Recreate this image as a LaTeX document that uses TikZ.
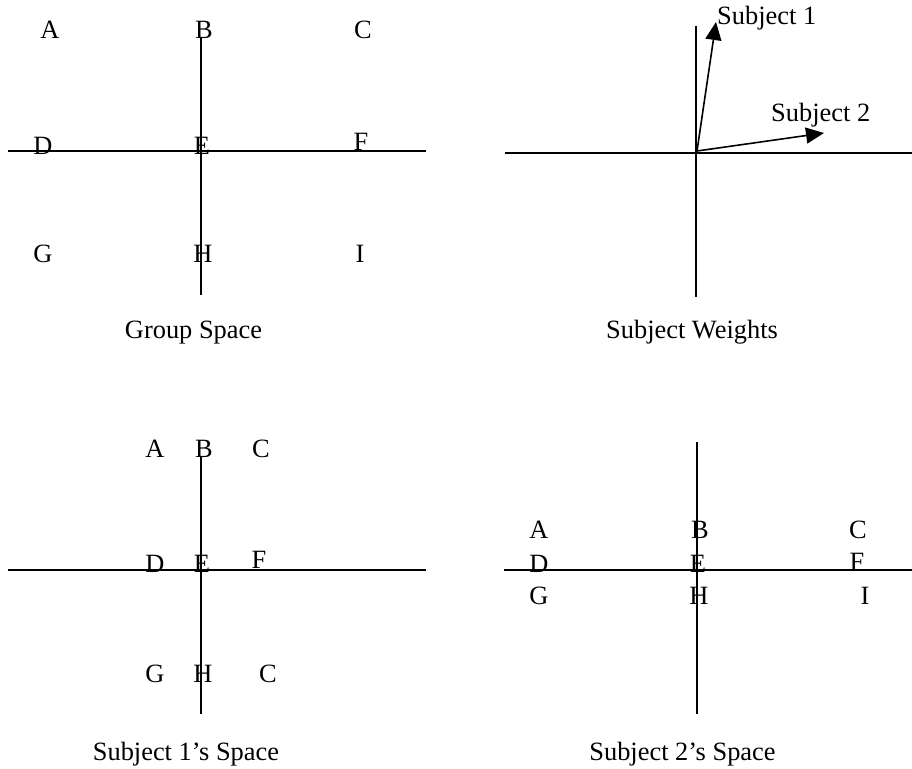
\documentclass[tikz,border=0pt]{standalone}
\usepackage{fontspec}
\setmainfont{Liberation Serif}
\usetikzlibrary{arrows.meta}

\tikzset{
  axis/.style={line width=1.6pt},
  lbl/.style={anchor=base, inner sep=0pt, font=\fontsize{26.4}{30}\selectfont},
  weight/.style={line width=1.6pt, -{Triangle[length=18pt,width=16pt]}}
}

\begin{document}
\begin{tikzpicture}[x=1pt, y=-1pt]
  \useasboundingbox (0,0) rectangle (912,768);

  % Group Space
  \coordinate (gN) at (201,37);     \coordinate (gS) at (201,295);
  \coordinate (gW) at (8,151);      \coordinate (gE) at (426,151);
  \draw[axis] (gN) -- (gS);
  \draw[axis] (gW) -- (gE);
  \foreach \x/\y/\t in {50/38/A, 204/38/B, 363/38/C,
                        43/154/D, 202/154/E, 361/150/F,
                        43/262/G, 203/262/H, 360/262/I} {
    \node[lbl] (g\t) at (\x,\y) {\t};
  }
  \node[lbl] (gcap) at (193.5,338) {Group Space};

  % Subject Weights
  \coordinate (wN) at (696,26);     \coordinate (wS) at (696,297);
  \coordinate (wW) at (505,153);    \coordinate (wE) at (912,153);
  \draw[axis] (wN) -- (wS);
  \draw[axis] (wW) -- (wE);
  \coordinate (wO) at (697,151);
  \coordinate (w1) at (716,22);
  \coordinate (w2) at (824,133);
  \draw[weight] (wO) -- (w1);
  \draw[weight] (wO) -- (w2);
  \node[lbl, anchor=base west] (s1) at (717,25) {Subject 1};
  \node[lbl, anchor=base west] (s2) at (771,121) {Subject 2};
  \node[lbl] (wcap) at (692,338) {Subject Weights};

  % Subject 1's Space
  \coordinate (aN) at (201,457);    \coordinate (aS) at (201,714);
  \coordinate (aW) at (8,570);      \coordinate (aE) at (426,570);
  \draw[axis] (aN) -- (aS);
  \draw[axis] (aW) -- (aE);
  \foreach \x/\y/\t/\n in {155/457/A/A, 204/457/B/B, 261/457/C/C,
                           155/572/D/D, 202/572/E/E, 259/568/F/F,
                           155/682/G/G, 203/682/H/H, 268/682/C/I} {
    \node[lbl] (a\n) at (\x,\y) {\t};
  }
  \node[lbl] (acap) at (186,760) {Subject 1’s Space};

  % Subject 2's Space
  \coordinate (bN) at (697,442);    \coordinate (bS) at (697,714);
  \coordinate (bW) at (504,570);    \coordinate (bE) at (912,570);
  \draw[axis] (bN) -- (bS);
  \draw[axis] (bW) -- (bE);
  \foreach \x/\y/\t in {539/538/A, 700/538/B, 858/538/C,
                        539/572/D, 698/572/E, 857/570/F,
                        539/604/G, 699/604/H, 865/604/I} {
    \node[lbl] (b\t) at (\x,\y) {\t};
  }
  \node[lbl] (bcap) at (682.5,760) {Subject 2’s Space};
\end{tikzpicture}
\end{document}
